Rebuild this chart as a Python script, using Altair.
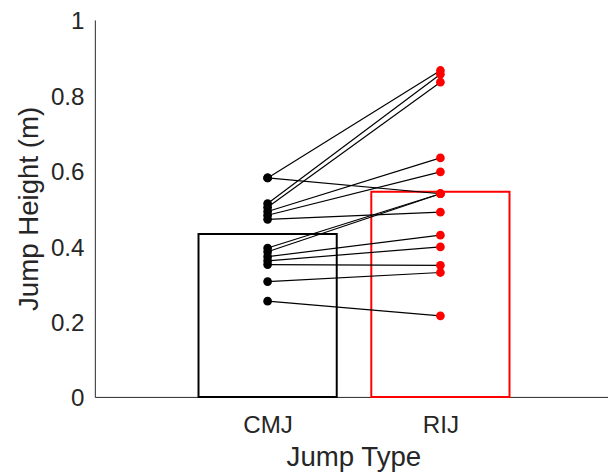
import altair as alt
import pandas as pd

jump_types = ["CMJ", "RIJ"]
type_positions = [1, 2]
type_colors = ["#000000", "#ff0000"]

# one value per subject, paired by index
cmj_heights = [0.581, 0.581, 0.513, 0.503, 0.492, 0.482, 0.471,
               0.395, 0.385, 0.372, 0.361, 0.351, 0.306, 0.254]
rij_heights = [0.866, 0.539, 0.856, 0.835, 0.634, 0.597, 0.490,
               0.539, 0.539, 0.429, 0.398, 0.349, 0.330, 0.215]

y_ticks = [0, 0.2, 0.4, 0.6, 0.8, 1]

rows = []
for i, (a, b) in enumerate(zip(cmj_heights, rij_heights)):
    rows.append({"subject": i, "type": jump_types[0], "pos": type_positions[0], "height": a})
    rows.append({"subject": i, "type": jump_types[1], "pos": type_positions[1], "height": b})
df = pd.DataFrame(rows)

FONT = "Liberation Sans"
GREY = "#262626"

x_scale = alt.Scale(domain=[0, 2.97], nice=False, zero=False)
y_scale = alt.Scale(domain=[0, 1], nice=False)
color_scale = alt.Scale(domain=jump_types, range=type_colors)

x_axis = alt.Axis(
    values=type_positions,
    labelExpr="datum.value == 1 ? 'CMJ' : 'RIJ'",
    title="Jump Type",
    grid=False, ticks=False, labelAngle=0,
    labelPadding=17, labelFontSize=24.5, labelFont=FONT, labelColor=GREY,
    titleFontSize=28, titleFont=FONT, titleColor=GREY, titleFontWeight="normal",
    titleBaseline="alphabetic", titleY=70, titleX=262,
    domainColor=GREY, domainWidth=1,
)
y_axis = alt.Axis(
    values=y_ticks, format="~g",
    title="Jump Height (m)",
    grid=False, ticks=False,
    labelPadding=11, labelFontSize=24.5, labelFont=FONT, labelColor=GREY,
    labelOffset=2,
    titleFontSize=28, titleFont=FONT, titleColor=GREY, titleFontWeight="normal",
    titleAngle=270, titleBaseline="alphabetic", titleAlign="center",
    titleX=-58, titleY=191,
    domainColor=GREY, domainWidth=1,
)

base = alt.Chart(df)

bars = base.transform_aggregate(
    mean_h="mean(height)", groupby=["type", "pos"]
).transform_calculate(
    xa="datum.pos - 0.4", xb="datum.pos + 0.4"
).mark_rect(fillOpacity=0, strokeWidth=2).encode(
    x=alt.X("xa:Q", scale=x_scale, axis=x_axis),
    x2="xb:Q",
    y=alt.Y("mean_h:Q", scale=y_scale, axis=y_axis),
    y2=alt.datum(0),
    stroke=alt.Stroke("type:N", scale=color_scale, legend=None),
)

lines = base.mark_line(color="black", strokeWidth=1.2).encode(
    x=alt.X("pos:Q", scale=x_scale, axis=x_axis),
    y=alt.Y("height:Q", scale=y_scale, axis=y_axis),
    detail="subject:N",
)

points = base.mark_circle(size=78, opacity=1).encode(
    x=alt.X("pos:Q", scale=x_scale, axis=x_axis),
    y=alt.Y("height:Q", scale=y_scale, axis=y_axis),
    color=alt.Color("type:N", scale=color_scale, legend=None),
)

chart = alt.layer(bars, lines, points).properties(
    width=520, height=382,
    autosize=alt.AutoSizeParams(type="none"),
    padding={"left": 88, "top": 9, "right": 0, "bottom": 75},
).configure_view(strokeWidth=0)

chart.save("out.html", embed_options={"renderer": "svg", "actions": False})
